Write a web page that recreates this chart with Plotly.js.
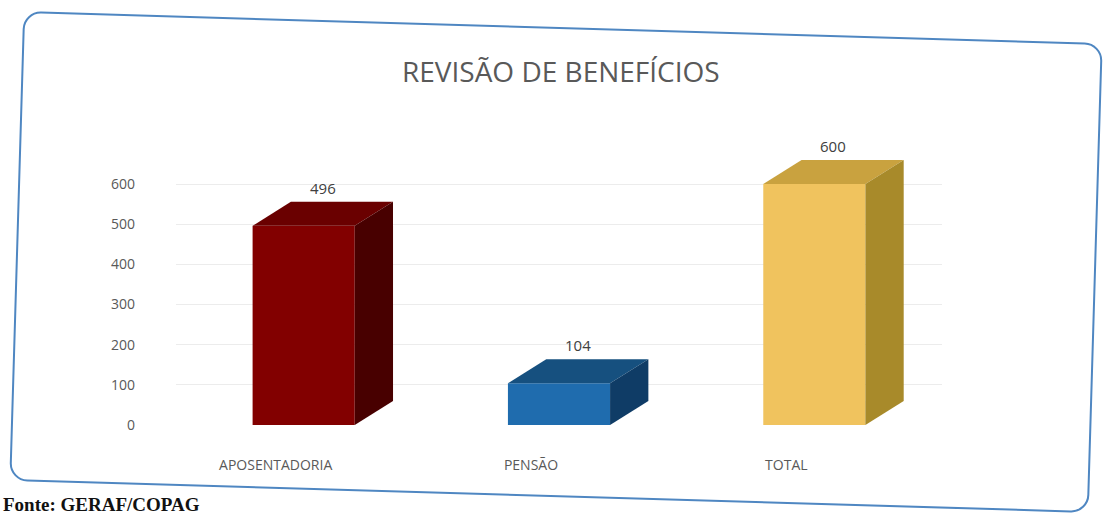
<!DOCTYPE html>
<html>
<head>
<meta charset="utf-8">
<script src="https://cdn.plot.ly/plotly-3.0.1.min.js"></script>
<style>
  body { margin: 0; background: #ffffff; }
  #wrap { position: relative; width: 1104px; height: 524px; overflow: hidden; }
  #chart { position: absolute; left: 0; top: 0; width: 1104px; height: 524px; }
  #frame {
    position: absolute; left: 16px; top: 27px; width: 1080px; height: 470px;
    border: 2px solid #4f87c2; border-radius: 18px; box-sizing: border-box;
    transform: rotate(1.7deg); pointer-events: none;
  }
</style>
</head>
<body>
<div id="wrap">
  <div id="chart"></div>
  <div id="frame"></div>
</div>
<script>
// data
const categories = ['APOSENTADORIA', 'PENSÃO', 'TOTAL'];
const values = [496, 104, 600];
const frontColors = ['#820000', '#1f6cae', '#f0c35e'];
const sideColors = ['#480000', '#0f3c66', '#a88a2a'];
const topColors = ['#6a0000', '#16507f', '#c9a23f'];

const yTicks = [0, 100, 200, 300, 400, 500, 600];

// fake 3D depth (category units / data units)
const barW = 0.4;
const depthX = 0.15;
const depthY = 60;

const xs = categories.map((c, i) => i);

const traces = [];

// front faces
traces.push({
  type: 'bar',
  x: xs,
  y: values,
  width: barW,
  marker: { color: frontColors, line: { width: 0 } },
  hoverinfo: 'skip',
  showlegend: false
});

// top and side faces, built from the same values
values.forEach((v, i) => {
  const l = i - barW / 2, r = i + barW / 2;
  traces.push({
    type: 'scatter', mode: 'lines', fill: 'toself',
    x: [l, r, r + depthX, l + depthX, l],
    y: [v, v, v + depthY, v + depthY, v],
    fillcolor: topColors[i], line: { width: 0, color: topColors[i] },
    hoverinfo: 'skip', showlegend: false
  });
  traces.push({
    type: 'scatter', mode: 'lines', fill: 'toself',
    x: [r, r + depthX, r + depthX, r, r],
    y: [0, depthY, v + depthY, v, 0],
    fillcolor: sideColors[i], line: { width: 0, color: sideColors[i] },
    hoverinfo: 'skip', showlegend: false
  });
});

const annotations = values.map((v, i) => ({
  x: i + depthX / 2,
  y: v + depthY,
  xref: 'x', yref: 'y',
  text: String(v),
  showarrow: false,
  yanchor: 'bottom',
  yshift: 2,
  font: { family: 'Open Sans, Lato, sans-serif', size: 15, color: '#404040' }
}));

annotations.push({
  xref: 'paper', yref: 'paper',
  x: -0.229, y: -0.293,
  xanchor: 'left', yanchor: 'middle',
  text: '<b>Fonte: GERAF/COPAG</b>',
  showarrow: false,
  font: { family: 'Liberation Serif, serif', size: 19, color: '#111111' }
});

const layout = {
  width: 1104,
  height: 524,
  margin: { l: 176, r: 162, t: 152, b: 99 },
  paper_bgcolor: 'rgba(0,0,0,0)',
  plot_bgcolor: 'rgba(0,0,0,0)',
  barmode: 'overlay',
  title: {
    text: 'REVISÃO DE BENEFÍCIOS',
    x: 0.508, xanchor: 'center',
    y: 0.862, yanchor: 'middle',
    yref: 'container',
    font: { family: 'Open Sans, Lato, sans-serif', size: 28, color: '#595959' }
  },
  xaxis: {
    range: [-0.5, 2.5],
    tickvals: xs,
    ticktext: categories,
    showgrid: false,
    zeroline: false,
    showline: false,
    ticks: '',
    ticklabelshift: -28,
    ticklabelstandoff: 30,
    tickfont: { family: 'Open Sans, Lato, sans-serif', size: 14, color: '#595959' }
  },
  yaxis: {
    range: [0, 680],
    tickvals: yTicks,
    showgrid: true,
    gridcolor: '#ececec',
    zeroline: false,
    showline: false,
    ticks: '',
    ticklabelstandoff: 40,
    tickfont: { family: 'Open Sans, Lato, sans-serif', size: 14, color: '#595959' }
  },
  annotations: annotations,
  font: { family: 'Open Sans, Lato, sans-serif' }
};

Plotly.newPlot('chart', traces, layout, { displayModeBar: false, staticPlot: true });
</script>
</body>
</html>
